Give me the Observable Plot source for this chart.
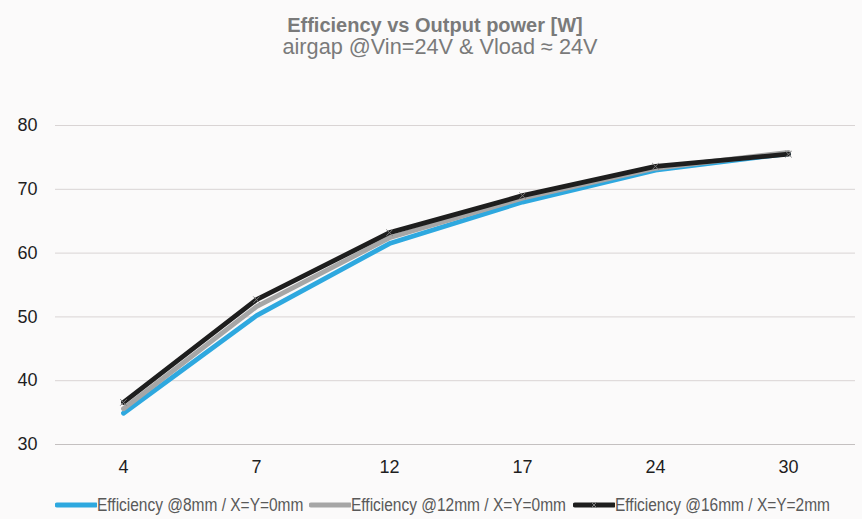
<!DOCTYPE html>
<html><head><meta charset="utf-8">
<script src="https://cdn.jsdelivr.net/npm/d3@7"></script>
<script src="https://cdn.jsdelivr.net/npm/@observablehq/plot@0.6"></script>
<style>
body{margin:0;background:#fbfafa;}
#wrap{width:862px;height:519px;background:#fbfafa;font-family:"Liberation Sans",Arial,sans-serif;position:relative;overflow:hidden;}
#title{height:60px;box-sizing:border-box;padding-top:14px;text-align:center;color:#7a7a7a;}
#title .t1{font-weight:bold;font-size:20px;line-height:22px;padding-left:8px;}
#title .t2{font-size:21.7px;line-height:22px;padding-left:18px;}
#legend{display:flex;align-items:center;padding-left:55px;margin-top:15px;height:20px;font-family:"Liberation Sans",Arial,sans-serif;font-size:18px;color:#595959;white-space:nowrap;}
#legend .item{display:flex;align-items:center;margin-right:6px;overflow:visible;}
#legend .txt{display:inline-block;transform:scaleX(0.86);transform-origin:0 50%;}
#legend svg{display:block;flex:none;}
</style></head>
<body><div id="wrap">
<div id="title"><div class="t1">Efficiency vs Output power [W]</div><div class="t2">airgap @Vin=24V &amp; Vload ≈ 24V</div></div>
<div id="chart"></div>
<div id="legend"></div>
</div>
<script>
const powers = ["4","7","12","17","24","30"];
const seriesNames = ["Efficiency @8mm / X=Y=0mm","Efficiency @12mm / X=Y=0mm","Efficiency @16mm / X=Y=2mm"];
const eff8 = [34.9, 50.2, 61.5, 68.0, 73.0, 75.6];
const eff12 = [35.6, 51.6, 62.4, 68.6, 73.3, 75.8];
const eff16 = [36.6, 52.7, 63.2, 69.0, 73.6, 75.5];
const yTicks = [30,40,50,60,70,80];
const colors = ["#2ea8df","#a6a6a6","#1e1e1e"];

const seriesVals = [eff8, eff12, eff16];
const data = [];
seriesVals.forEach((vals, s) => vals.forEach((v, i) => data.push({series: seriesNames[s], x: powers[i], y: v})));

const chart = Plot.plot({
  width: 862, height: 420,
  marginLeft: 55, marginRight: 7, marginTop: 65, marginBottom: 36,
  style: {background: "transparent", fontFamily: "Liberation Sans, Arial, sans-serif", fontSize: "18px", color: "#1e1e1e"},
  x: {type: "point", domain: powers, padding: 0.5, label: null},
  y: {domain: [30, 80], label: null},
  color: {domain: seriesNames, range: colors},
  marks: [
    Plot.gridY(yTicks.slice(1), {stroke: "#d9d4d4", strokeOpacity: 1, strokeWidth: 1}),
    Plot.ruleY([30], {stroke: "#c4c0c0", strokeWidth: 1}),
    Plot.axisX({tickSize: 0, tickPadding: 16, fontSize: 18, label: null}),
    Plot.axisY({ticks: yTicks, tickSize: 0, tickPadding: 18, fontSize: 18, label: null}),
    Plot.line(data, {x: "x", y: "y", z: "series", stroke: "series", strokeWidth: 4.8, strokeLinejoin: "round", strokeLinecap: "round"}),
    Plot.dot(data.filter(d => d.series === seriesNames[2]), {x: "x", y: "y", symbol: "times", r: 3, stroke: "#7a7a7a", strokeWidth: 1})
  ]
});
document.getElementById("chart").appendChild(chart);

const leg = document.getElementById("legend");
seriesNames.forEach((name, i) => {
  const it = document.createElement("div");
  it.className = "item";
  const marker = i === 2 ? `<path d="M18,5L24,11M24,5L18,11" stroke="#7a7a7a" stroke-width="1"/>` : "";
  it.innerHTML = `<svg width="42" height="16"><line x1="2" y1="8" x2="41" y2="8" stroke="${colors[i]}" stroke-width="4.8" stroke-linecap="round"/>${marker}</svg><span class="txt">${name}</span>`;
  leg.appendChild(it);
  const sp = it.querySelector(".txt");
  const w = sp.getBoundingClientRect().width;
  sp.style.marginRight = (-(sp.offsetWidth - w)) + "px";
});
</script>
</body></html>
